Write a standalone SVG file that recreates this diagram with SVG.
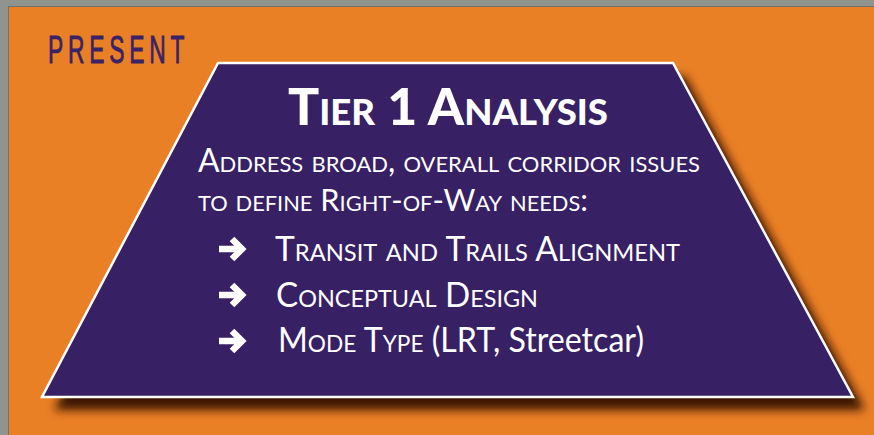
<svg xmlns="http://www.w3.org/2000/svg" width="874" height="435" viewBox="0 0 874 435">
  <defs>
    <filter id="shadow" x="-10%" y="-10%" width="130%" height="130%">
      <feGaussianBlur stdDeviation="5"/>
    </filter>
    <path id="bullet" d="M0,0 H22 M13,-10 L23,0 L13,10" fill="none" stroke="#ffffff" stroke-width="6.5" stroke-linejoin="miter" stroke-linecap="butt"/>
    <style>
      .body { font-family: Lato, "Open Sans", "Liberation Sans", sans-serif; fill: #ffffff; font-variant: small-caps; }
      .title { font-family: Lato, "Liberation Sans", sans-serif; font-weight: 900; fill: #ffffff; font-variant: small-caps; }
    </style>
  </defs>

  <!-- frame / background -->
  <rect x="0" y="0" width="874" height="435" fill="#8f958e"/>
  <rect x="8" y="6" width="866" height="429" fill="#6f746d"/>
  <rect x="9" y="7" width="865" height="428" fill="#ea8025"/>

  <g id="present-label">
    <text transform="translate(48,63) scale(0.6,1)" x="0" y="0" font-family="'Liberation Sans', Arial, sans-serif" font-size="38" fill="#3a2266" stroke="#3a2266" stroke-width="0.9" letter-spacing="8">PRESENT</text>
  </g>

  <g id="tier1-node">
    <polygon points="230,76 685,76 865,410 54,410" fill="#3d1800" filter="url(#shadow)"/>
    <polygon points="218,63 673,63 853,397 42,397" fill="#372063" stroke="#ffffff" stroke-width="2.5" stroke-linejoin="miter"/>

    <text class="title" x="288" y="125" font-size="51" textLength="320" lengthAdjust="spacingAndGlyphs">Tier 1 Analysis</text>

    <text class="body" x="198" y="172" font-size="32" textLength="502" lengthAdjust="spacingAndGlyphs">Address broad, overall corridor issues</text>
    <text class="body" x="198" y="211" font-size="31" textLength="390" lengthAdjust="spacingAndGlyphs">to define Right-of-Way needs:</text>

    <use href="#bullet" x="219" y="249"/>
    <text class="body" x="275" y="261" font-size="34" textLength="405" lengthAdjust="spacingAndGlyphs">Transit and Trails Alignment</text>

    <use href="#bullet" x="219" y="295"/>
    <text class="body" x="276" y="307" font-size="34" textLength="262" lengthAdjust="spacingAndGlyphs">Conceptual Design</text>

    <use href="#bullet" x="219" y="341"/>
    <text class="body" x="278" y="352" font-size="34" textLength="366" lengthAdjust="spacingAndGlyphs">Mode Type <tspan font-variant="normal">(LRT, Streetcar)</tspan></text>
  </g>

  <g id="connectors"/>
</svg>
